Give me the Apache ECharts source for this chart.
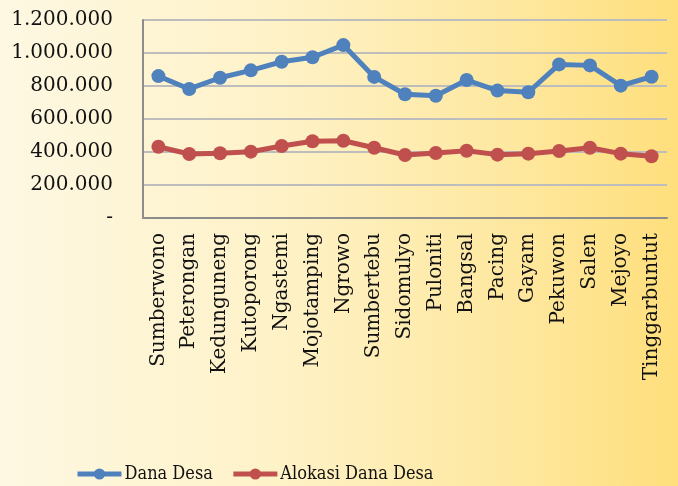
<!DOCTYPE html>
<html>
<head>
<meta charset="utf-8">
<script src="https://cdn.jsdelivr.net/npm/echarts@6/dist/echarts.min.js"></script>
<style>
  html, body { margin: 0; padding: 0; }
  #chart {
    width: 678px;
    height: 486px;
    background: linear-gradient(to right, #fef8e3 0%, #fef2c8 40%, #fee8a0 75%, #ffdf7c 100%);
  }
</style>
</head>
<body>
<div id="chart"></div>
<script>
const desa = [
  'Sumberwono', 'Peterongan', 'Kedunguneng', 'Kutoporong', 'Ngastemi',
  'Mojotamping', 'Ngrowo', 'Sumbertebu', 'Sidomulyo', 'Puloniti',
  'Bangsal', 'Pacing', 'Gayam', 'Pekuwon', 'Salen', 'Mejoyo', 'Tinggarbuntut'
]
const danaDesa = [
  860000, 782000, 850000, 895000, 947000, 974000, 1048000, 855000, 750000,
  741000, 836000, 772000, 762000, 931000, 925000, 802000, 856000
]
const alokasiDanaDesa = [
  432000, 388000, 392000, 402000, 436000, 465000, 468000, 426000, 382000,
  394000, 408000, 384000, 390000, 406000, 426000, 390000, 374000
]

const axisFont = '"DejaVu Serif", serif'
const legendFont = '"DejaVu Serif Condensed", "DejaVu Serif", serif'

// 1200000 -> "1.200.000", 0 -> "-"
function fmtRibuan(v) {
  if (v === 0) return '-'
  return String(v).replace(/\B(?=(\d{3})+(?!\d))/g, '.')
}

const chart = echarts.init(document.getElementById('chart'), null, { renderer: 'canvas' })

chart.setOption({
  backgroundColor: 'transparent',
  animation: false,
  grid: { left: 143, right: 11, top: 20, bottom: 268 },
  legend: {
    top: 465,
    left: 75,
    padding: 0,
    itemWidth: 44,
    itemHeight: 14,
    itemGap: 18,
    lineStyle: { width: 5 },
    textStyle: { fontFamily: legendFont, fontSize: 18, color: '#111', padding: [0, 0, 0, -2] },
    data: ['Dana Desa', 'Alokasi Dana Desa'],
  },
  xAxis: {
    type: 'category',
    data: desa,
    boundaryGap: true,
    axisLine: { lineStyle: { color: '#8c8c8c', width: 2 } },
    axisTick: { show: false },
    axisLabel: {
      rotate: 90,
      interval: 0,
      margin: 15,
      fontFamily: axisFont,
      fontSize: 20,
      color: '#111',
    },
  },
  yAxis: {
    type: 'value',
    min: 0,
    max: 1200000,
    interval: 200000,
    axisLine: { show: true, lineStyle: { color: '#8c8c8c', width: 2 } },
    axisTick: { show: false },
    splitLine: { lineStyle: { color: '#bdbdbd', width: 2 } },
    axisLabel: {
      margin: 30,
      fontFamily: axisFont,
      fontSize: 20,
      color: '#111',
      formatter: fmtRibuan,
    },
  },
  series: [
    {
      name: 'Dana Desa',
      type: 'line',
      data: danaDesa,
      symbol: 'circle',
      symbolSize: 14,
      color: '#4f81bd',
      lineStyle: { width: 5 },
    },
    {
      name: 'Alokasi Dana Desa',
      type: 'line',
      data: alokasiDanaDesa,
      symbol: 'circle',
      symbolSize: 14,
      color: '#c0504d',
      lineStyle: { width: 5 },
    },
  ],
})
</script>
</body>
</html>
